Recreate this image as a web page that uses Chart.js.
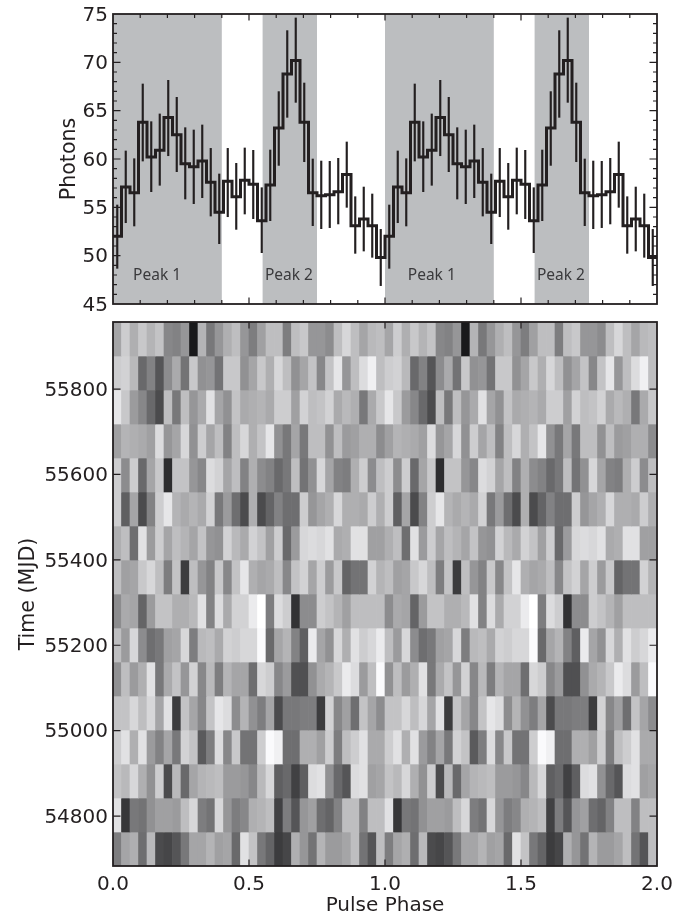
<!DOCTYPE html>
<html>
<head>
<meta charset="utf-8">
<script src="https://cdn.jsdelivr.net/npm/chart.js@4/dist/chart.umd.min.js"></script>
<style>
html,body{margin:0;padding:0;background:#fff;overflow:hidden}
#a,#b{position:absolute;left:0}
#a{top:0}
#b{top:306px}
</style>
</head>
<body>
<div id="a" style="width:699px;height:318px"><canvas id="top"></canvas></div>
<div id="b" style="width:699px;height:611px"><canvas id="bottom"></canvas></div>
<script>
// Pulse profile (one cycle, 32 bins; the figure shows it twice)
const photons = [52.0,57.1,56.5,63.8,60.2,60.9,64.3,62.5,59.5,59.2,59.8,57.6,54.5,57.7,56.1,57.8,57.4,53.6,57.3,63.2,68.8,70.2,63.8,56.5,56.2,56.3,56.6,58.4,53.1,53.8,53.1,49.8];
const errHigh = [55.24,60.83,60.03,67.76,63.86,64.66,68.14,66.38,63.24,63.0,63.52,61.1,58.45,61.1,59.55,61.14,60.9,57.03,60.93,66.97,73.28,74.59,67.86,60.0,59.79,59.76,60.07,61.76,56.1,57.1,56.38,52.72];
const errLow = [48.69,53.41,53.07,59.79,56.62,57.28,60.34,58.69,55.86,55.38,56.0,54.1,51.24,54.03,52.72,54.31,53.83,50.31,53.62,59.34,64.31,65.86,59.72,53.1,52.79,52.9,53.28,55.0,50.24,50.48,49.83,46.9];
const peakBands = [[0,0.4],[0.55,0.75],[1,1.4],[1.55,1.75]];
const peakLabels = ["Peak 1","Peak 2","Peak 1","Peak 2"];
const peakLabelPhase = [0.162,0.647,1.172,1.647];
const peakLabelPhotons = 47.9;

// Phase-time map: 16 time rows (top row = latest), 32 phase bins, lightness 0-255
const mjdStart = 54683, mjdEnd = 55957;
const map = [
[165,205,175,200,180,195,135,130,150,25,180,120,150,175,190,150,125,160,190,190,125,190,200,150,150,140,190,215,190,165,185,190],
[205,210,185,105,130,85,140,170,115,200,145,150,115,200,200,145,165,200,175,215,190,145,165,195,135,195,230,150,190,220,240,190],
[230,200,155,135,105,75,190,120,190,150,170,225,165,145,195,170,175,180,170,205,205,160,210,190,195,210,170,185,175,120,170,200],
[160,180,175,170,160,220,150,165,215,145,205,165,190,130,190,215,175,195,230,145,120,165,120,190,190,145,190,155,160,175,175,140],
[205,140,205,105,165,200,45,195,195,150,135,220,210,165,190,130,175,140,130,105,120,190,115,145,215,165,130,125,175,205,140,190],
[205,95,165,75,130,205,230,180,170,180,170,210,120,155,110,75,175,75,100,130,110,110,205,150,165,175,215,175,175,170,205,175],
[175,190,110,225,155,205,165,190,180,165,195,150,145,210,185,170,210,195,160,205,105,155,215,220,215,225,170,175,225,225,160,160],
[190,160,165,200,215,190,125,195,60,190,150,130,200,135,195,230,175,165,170,190,135,195,210,165,205,155,200,100,115,115,210,180],
[140,170,165,100,155,195,195,175,175,185,225,130,220,170,210,210,235,255,125,220,205,50,140,140,205,195,180,160,190,190,190,190],
[190,155,215,140,110,120,160,165,215,125,185,190,170,210,205,215,215,250,105,165,180,130,95,235,165,145,215,175,225,205,215,235],
[145,190,155,175,225,120,170,195,150,210,135,185,125,180,165,165,110,215,205,135,155,80,80,145,170,180,200,235,220,155,190,250],
[195,195,215,190,215,165,225,60,195,165,135,195,230,220,140,180,145,125,165,75,120,120,125,125,60,210,135,160,110,195,165,140],
[205,225,175,225,155,130,165,120,210,195,90,125,220,135,200,115,115,205,250,240,110,110,175,175,160,205,125,190,205,225,170,170],
[195,185,215,175,145,205,75,185,105,165,180,185,190,155,155,150,135,185,215,95,105,65,95,220,225,145,105,85,220,225,160,165],
[225,55,120,115,145,160,160,155,190,215,125,115,215,150,125,135,175,180,190,65,125,85,150,160,110,100,130,190,190,130,190,190],
[125,165,175,110,185,75,70,85,120,165,165,180,160,165,105,225,195,120,100,60,70,175,150,115,180,155,155,165,190,115,85,190]
];

const INK = '#231f20';
const FONT = {family:'"DejaVu Sans"', size:20};
const YTITLE = {family:'"DejaVu Sans"', size:20.6};
Chart.defaults.font.family = '"DejaVu Sans"';
Chart.defaults.color = INK;

function fixY(s){
  s.width=113;s.paddingTop=0;s.paddingBottom=0;
  if(!s._nudged){
    s._nudged=true;
    const orig=s._computeLabelItems;
    s._computeLabelItems=function(a){return orig.call(this,a).map(i=>({...i,textOffset:i.textOffset+1.5}));};
  }
}
function fixX(h){return s=>{s.height=h;s.paddingLeft=0;s.paddingRight=0;};}

const frameTicks = {
  id:'frameTicks',
  afterDatasetsDraw(c, _a, o){
    const {ctx, chartArea:A, scales:{x,y}} = c;
    const isMajor = (v,e)=>Math.abs(v/e-Math.round(v/e))<1e-6;
    ctx.save();
    ctx.strokeStyle = INK;
    ctx.lineWidth = 1.2;
    ctx.beginPath();
    x.ticks.forEach(t=>{
      if(t.value<=x.min||t.value>=x.max) return;
      const p=x.getPixelForValue(t.value), L=isMajor(t.value,o.xMajor)?6.5:4;
      ctx.moveTo(p,A.bottom);ctx.lineTo(p,A.bottom-L);
      ctx.moveTo(p,A.top);ctx.lineTo(p,A.top+L);
    });
    y.ticks.forEach(t=>{
      if(t.value<=y.min||t.value>=y.max) return;
      const p=y.getPixelForValue(t.value), L=isMajor(t.value,o.yMajor)?7.5:4;
      ctx.moveTo(A.left,p);ctx.lineTo(A.left+L,p);
      ctx.moveTo(A.right,p);ctx.lineTo(A.right-L,p);
    });
    ctx.stroke();
    ctx.lineWidth = 1.8;
    ctx.strokeRect(A.left,A.top,A.right-A.left,A.bottom-A.top);
    ctx.restore();
  }
};

const bands = {
  id:'bands',
  beforeDatasetsDraw(c){
    const {ctx, chartArea:A, scales:{x}} = c;
    ctx.save();
    ctx.fillStyle = '#bcbec0';
    peakBands.forEach(([a,b])=>{
      const l=x.getPixelForValue(a), r=x.getPixelForValue(b);
      ctx.fillRect(l,A.top,r-l,A.bottom-A.top);
    });
    ctx.restore();
  },
  afterDatasetsDraw(c){
    const {ctx, scales:{x,y}} = c;
    ctx.save();
    ctx.fillStyle = '#3a3a3c';
    ctx.font = '15.5px "Noto Sans"';
    ctx.textAlign = 'center';
    ctx.textBaseline = 'middle';
    peakLabels.forEach((t,i)=>ctx.fillText(t,x.getPixelForValue(peakLabelPhase[i]),y.getPixelForValue(peakLabelPhotons)));
    ctx.restore();
  }
};

const nBins = photons.length;
const centre = i => (i+0.5)/nBins;
const stepData = [{x:0,y:photons[0]}];
const errData = [];
for(let cyc=0;cyc<2;cyc++){
  photons.forEach((v,i)=>{
    stepData.push({x:cyc+centre(i),y:v});
    errData.push({x:cyc+centre(i),y:[errLow[i],errHigh[i]]});
  });
}
stepData.push({x:2,y:photons[nBins-1]});

new Chart(document.getElementById('top'),{
  data:{datasets:[
    {type:'bar',data:errData,backgroundColor:INK,barThickness:1.5,grouped:false,order:2},
    {type:'line',data:stepData,stepped:'middle',borderColor:INK,borderWidth:3,pointRadius:0,fill:false,order:1}
  ]},
  options:{
    responsive:true,maintainAspectRatio:false,animation:false,
    layout:{padding:{left:0,right:42,top:14,bottom:14}},
    plugins:{legend:{display:false},tooltip:{enabled:false},frameTicks:{xMajor:0.5,yMajor:5}},
    scales:{
      x:{type:'linear',min:0,max:2,offset:false,
        grid:{display:false,drawTicks:false},border:{display:false},
        ticks:{stepSize:0.1,autoSkip:false,display:false},
        afterFit:fixX(0)},
      y:{min:45,max:75,
        grid:{display:false,drawTicks:false},border:{display:false},
        title:{display:true,text:'Photons',font:YTITLE,color:INK,padding:{top:57,bottom:0}},
        ticks:{stepSize:1,autoSkip:false,font:FONT,color:INK,padding:5,
          callback:v=>v%5===0?String(v):''},
        afterFit:fixY}
    }
  },
  plugins:[bands,frameTicks]
});

const rowSpan = (mjdEnd-mjdStart)/map.length;
const mapSets = map.map((row,r)=>{
  const hi = mjdEnd-r*rowSpan, lo = hi-rowSpan;
  const data=[], colors=[];
  for(let cyc=0;cyc<2;cyc++){
    row.forEach((g,i)=>{
      data.push({x:cyc+centre(i),y:[lo,hi]});
      colors.push(`rgb(${g},${g},${Math.min(255,g+2)})`);
    });
  }
  return {type:'bar',data,backgroundColor:colors,borderWidth:0,grouped:false,barPercentage:1,categoryPercentage:1};
});

new Chart(document.getElementById('bottom'),{
  data:{datasets:mapSets},
  options:{
    responsive:true,maintainAspectRatio:false,animation:false,
    layout:{padding:{left:0,right:42,top:16,bottom:0}},
    plugins:{legend:{display:false},tooltip:{enabled:false},frameTicks:{xMajor:0.5,yMajor:200}},
    scales:{
      x:{type:'linear',min:0,max:2,offset:false,
        grid:{display:false,drawTicks:false},border:{display:false},
        title:{display:true,text:'Pulse Phase',font:FONT,color:INK,padding:{top:0,bottom:-1}},
        ticks:{stepSize:0.5,autoSkip:false,font:FONT,color:INK,padding:7,maxRotation:0,
          callback:v=>v.toFixed(1)},
        afterFit:fixX(51)},
      y:{min:mjdStart,max:mjdEnd,
        grid:{display:false,drawTicks:false},border:{display:false},
        title:{display:true,text:'Time (MJD)',font:YTITLE,color:INK,padding:{top:16,bottom:0}},
        ticks:{stepSize:200,autoSkip:false,includeBounds:false,font:FONT,color:INK,padding:5,
          callback:v=>String(v)},
        afterFit:fixY}
    }
  },
  plugins:[frameTicks]
});
</script>
</body>
</html>
